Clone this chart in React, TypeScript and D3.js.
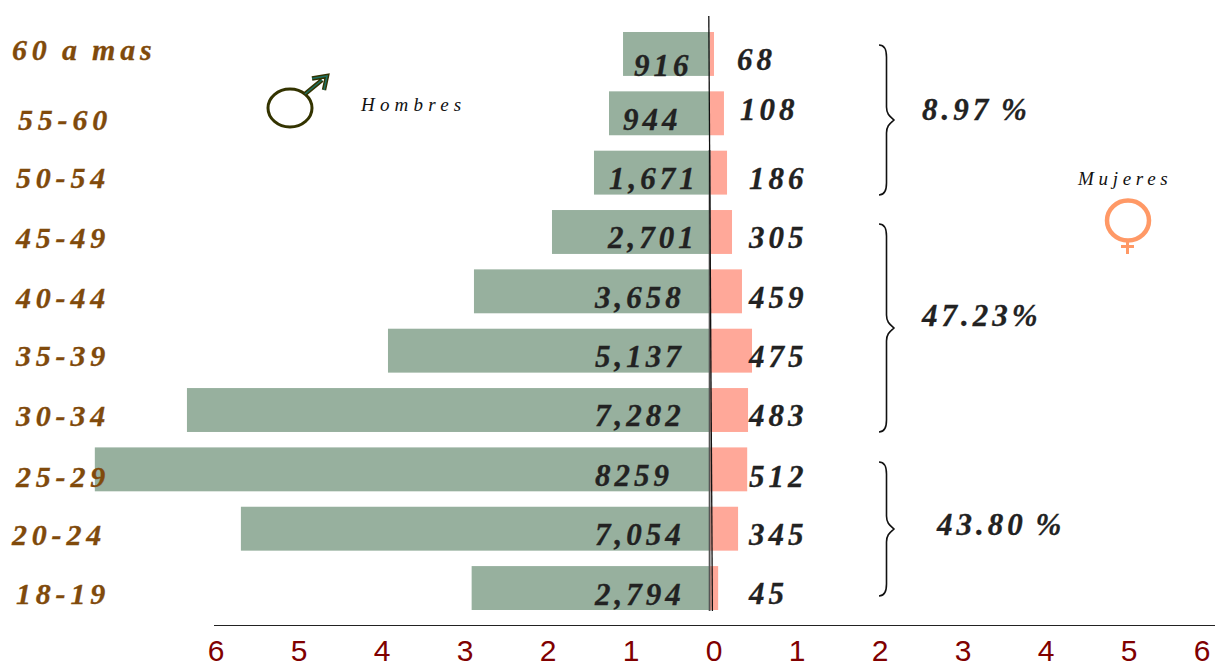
import React from "react";
import * as d3 from "d3";

const ageGroups = ["60 a mas","55-60","50-54","45-49","40-44","35-39","30-34","25-29","20-24","18-19"];
const maleLabels = ["916","944","1,671","2,701","3,658","5,137","7,282","8259","7,054","2,794"];
const femaleLabels = ["68","108","186","305","459","475","483","512","345","45"];
// bar lengths read against the percentage axis
const malePct = [1.096,1.265,1.446,1.952,2.892,3.928,6.35,7.46,5.70,2.92];
const femalePct = [0.0,0.12,0.157,0.217,0.337,0.458,0.41,0.40,0.29,0.05];
const axisTicks = [-6,-5,-4,-3,-2,-1,0,1,2,3,4,5];
const barOrigin = -0.05;

// hand-placed annotation text positions (x, baseline)
const ageAnchors = [[12,60],[18,130],[16,188],[16,248],[16,308],[16,366],[16,426],[16,487],[12,545],[16,604]];
const maleAnchors = [[634,76],[623,130],[609,189],[608,248],[595,308],[595,367],[595,426],[595,486],[595,545],[595,605]];
const femaleAnchors = [[737,70],[740,120],[749,189],[749,248],[749,308],[749,367],[749,426],[749,487],[749,545],[749,604]];
const groupNotes = [
  {label:"8.97 %", x:922, y:120, top:45, bottom:195},
  {label:"47.23%", x:922, y:326, top:224, bottom:432},
  {label:"43.80 %", x:937, y:535, top:462, bottom:596},
];

const x = d3.scaleLinear().domain([-6,6]).range([216,1212]);
const y = d3.scaleBand<string>().domain(ageGroups).range([32,610]).paddingInner(0.26);

const serif = "'Liberation Serif', serif";
const sans = "'Liberation Sans', sans-serif";

function brace(top:number,bottom:number){
  const mid=(top+bottom)/2, l=879, b=886.5, t=894;
  return `M${l},${top} C${b-2},${top} ${b},${top+4} ${b},${top+12} L${b},${mid-13} C${b},${mid-5} ${t-3},${mid-3} ${t},${mid} C${t-3},${mid+3} ${b},${mid+5} ${b},${mid+13} L${b},${bottom-12} C${b},${bottom-4} ${b-2},${bottom} ${l},${bottom}`;
}

export default function App(){
  const valueStyle = {fontFamily:serif,fontStyle:"italic" as const,fontWeight:700,fontSize:31,letterSpacing:4,wordSpacing:-3,fill:"#222",stroke:"#222",strokeWidth:0.3};
  return (
    <svg width={1215} height={662} viewBox="0 0 1215 662" style={{position:"absolute",left:0,top:0,display:"block",background:"#fff"}}>
      {ageGroups.map((g,i)=>(
        <rect key={g} x={x(-malePct[i])} y={y(g)} width={x(barOrigin)-x(-malePct[i])} height={y.bandwidth()} fill="#97b09e"/>
      ))}
      {ageGroups.map((g,i)=>(
        <rect key={g} x={x(barOrigin)} y={y(g)} width={x(femalePct[i])-x(barOrigin)} height={y.bandwidth()} fill="#ffa899"/>
      ))}
      <line x1={709.6} x2={709.6} y1={150} y2={611} stroke="#555" strokeWidth={1.8}/>
      <line x1={708.8} x2={712.4} y1={16} y2={611} stroke="#111" strokeWidth={1.3}/>
      <line x1={214} x2={1215} y1={625.5} y2={625.5} stroke="#222" strokeWidth={1}/>

      {axisTicks.map((t,i)=>(
        <text key={i} x={x(t)} y={661} textAnchor="middle" fontFamily={sans} fontSize={30} fill="#800000">{Math.abs(t)}</text>
      ))}
      <text x={1202} y={661} textAnchor="middle" fontFamily={sans} fontSize={30} fill="#800000">6</text>

      {ageGroups.map((g,i)=>(
        <text key={g} x={ageAnchors[i][0]} y={ageAnchors[i][1]} fontFamily={serif} fontStyle="italic" fontWeight={700} fontSize={30} letterSpacing={4.8} wordSpacing={-2} fill="#804a0b" stroke="#804a0b" strokeWidth={0.3}>{g}</text>
      ))}
      {maleLabels.map((s,i)=>(
        <text key={s} x={maleAnchors[i][0]} y={maleAnchors[i][1]} style={valueStyle}>{s}</text>
      ))}
      {femaleLabels.map((s,i)=>(
        <text key={s} x={femaleAnchors[i][0]} y={femaleAnchors[i][1]} style={valueStyle}>{s}</text>
      ))}
      {groupNotes.map(n=>(
        <g key={n.label}>
          <path d={brace(n.top,n.bottom)} fill="none" stroke="#111" strokeWidth={1.6}/>
          <text x={n.x} y={n.y} style={valueStyle}>{n.label}</text>
        </g>
      ))}

      <text x={361} y={111} fontFamily={serif} fontStyle="italic" fontSize={19} letterSpacing={5.2} fill="#111">Hombres</text>
      <text x={1078} y={185} fontFamily={serif} fontStyle="italic" fontSize={19} letterSpacing={4.7} fill="#111">Mujeres</text>

      <ellipse cx={290} cy={108} rx={22} ry={19} fill="#fff" stroke="#333300" strokeWidth={3}/>
      <path d="M305,94 L322,80 M312,78.5 L327,76 L324,90" fill="none" stroke="#333300" strokeWidth={4.4}/>
      <path d="M305,94 L322,80 M312,78.5 L327,76 L324,90" fill="none" stroke="#1f6f60" strokeWidth={1.6}/>

      <ellipse cx={1128} cy={220.5} rx={21} ry={20} fill="none" stroke="#ff9966" strokeWidth={4.5}/>
      <path d="M1127.5,241 V254 M1121,246.5 H1134" fill="none" stroke="#ff9966" strokeWidth={3}/>
    </svg>
  );
}
